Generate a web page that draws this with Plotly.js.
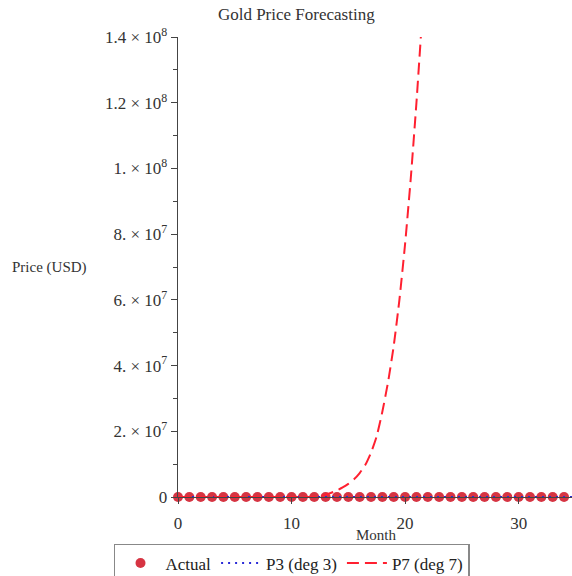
<!DOCTYPE html>
<html>
<head>
<meta charset="utf-8">
<script src="https://cdn.plot.ly/plotly-3.0.1.min.js"></script>
<style>html,body{margin:0;padding:0;background:#fff;}#chart{width:572px;height:576px;}</style>
</head>
<body>
<div id="chart"></div>
<script>
// Months and actual gold prices (USD)
const actualMonths = [0,1,2,3,4,5,6,7,8,9,10,11,12,13,14,15,16,17,18,19,20,21,22,23,24,25,26,27,28,29,30,31,32,33,34,35];
const actualPrices = [1800,1900,1940,1900,1850,1830,1770,1760,1680,1640,1770,1810,1920,1850,1980,1990,1960,1920,1960,1940,1870,1990,2040,2060,2050,2040,2230,2290,2330,2330,2430,2500,2630,2740,2650,2810];

// Degree-3 polynomial fit (read values)
const p3Months = [0,3,6,9,12,15,18,21,24,27,30,33,35];
const p3Prices = [1880,1820,1770,1760,1790,1850,1930,2020,2120,2240,2380,2560,2700];

// Degree-7 polynomial fit (read values)
const p7Months = [0,2,4,6,8,10,11,12,12.5,13,13.5,14,14.5,15,15.5,16,16.5,17,17.5,18,18.5,19,19.5,20,20.5,21,21.5,22];
const p7Prices = [1800,1900,1700,1800,1750,1900,20000,100000,300000,700000,1300000,2000000,2900000,4000000,5400000,7300000,9800000,13500000,18500000,26000000,35000000,46000000,60000000,77000000,97000000,120000000,146000000,174000000];

// Tick labels
const yTickVals = [0,2e7,4e7,6e7,8e7,1e8,1.2e8,1.4e8];
const yTickText = ["0","2. × 10<sup>7</sup>","4. × 10<sup>7</sup>","6. × 10<sup>7</sup>","8. × 10<sup>7</sup>","1. × 10<sup>8</sup>","1.2 × 10<sup>8</sup>","1.4 × 10<sup>8</sup>"];
const yMinorVals = [1e7,3e7,5e7,7e7,9e7,1.1e8,1.3e8];
const xTickVals = [0,10,20,30];
const xTickText = ["0","10","20","30"];

const serif = "Liberation Serif, Times New Roman, serif";

const traces = [
  {
    x: actualMonths, y: actualPrices, name: "Actual", mode: "markers", type: "scatter",
    marker: {color: "rgba(210,30,45,0.9)", size: 10},
    cliponaxis: false
  },
  {
    x: p3Months, y: p3Prices, name: "P3 (deg 3)", mode: "lines", type: "scatter",
    line: {color: "#2a2ad8", width: 2, dash: "2px,5px"},
    cliponaxis: false
  },
  {
    x: p7Months, y: p7Prices, name: "P7 (deg 7)", mode: "lines", type: "scatter",
    line: {color: "#ff2030", width: 2, dash: "12px,6px", shape: "spline", smoothing: 0.5}
  }
];

const layout = {
  width: 572, height: 576,
  margin: {l: 178, r: 0, t: 37, b: 79},
  paper_bgcolor: "#fff", plot_bgcolor: "#fff",
  font: {family: serif, size: 16, color: "#333"},
  title: {text: "Gold Price Forecasting", x: 0.518, xanchor: "center", y: 0.975, yanchor: "middle", yref: "container",
          font: {family: serif, size: 17, color: "#333"}},
  showlegend: true,
  legend: {orientation: "h", xref: "container", yref: "container",
           x: 0.1993, xanchor: "left", y: 0.0556, yanchor: "top",
           bordercolor: "#888", borderwidth: 1.5, bgcolor: "#fff",
           font: {family: serif, size: 17, color: "#222"}, itemwidth: 40,
           tracegroupgap: 0},
  xaxis: {
    range: [0, 34.7], showgrid: false, zeroline: false,
    showline: true, linecolor: "#444", linewidth: 1.3,
    ticks: "outside", ticklen: 6, tickcolor: "#444",
    ticklabelstandoff: 4,
    tickvals: xTickVals, ticktext: xTickText,
    tickfont: {family: serif, size: 17, color: "#333"}
  },
  yaxis: {
    range: [0, 1.4e8], showgrid: false, zeroline: false,
    showline: true, linecolor: "#444", linewidth: 1.3,
    ticks: "outside", ticklen: 6, tickcolor: "#444",
    ticklabelstandoff: 0,
    tickvals: yTickVals, ticktext: yTickText,
    tickfont: {family: serif, size: 17, color: "#333"},
    minor: {tickvals: yMinorVals, ticks: "outside", ticklen: 4, tickcolor: "#444"}
  },
  annotations: [
    {text: "Price (USD)", xref: "paper", yref: "paper", x: -0.325, y: 0.498,
     xanchor: "center", yanchor: "middle", showarrow: false,
     font: {family: serif, size: 15, color: "#333"}},
    {text: "Month", xref: "paper", yref: "paper", x: 0.505, y: -0.0826,
     xanchor: "center", yanchor: "middle", showarrow: false,
     font: {family: serif, size: 15, color: "#333"}}
  ]
};

Plotly.newPlot("chart", traces, layout, {displayModeBar: false, staticPlot: true});
</script>
</body>
</html>
